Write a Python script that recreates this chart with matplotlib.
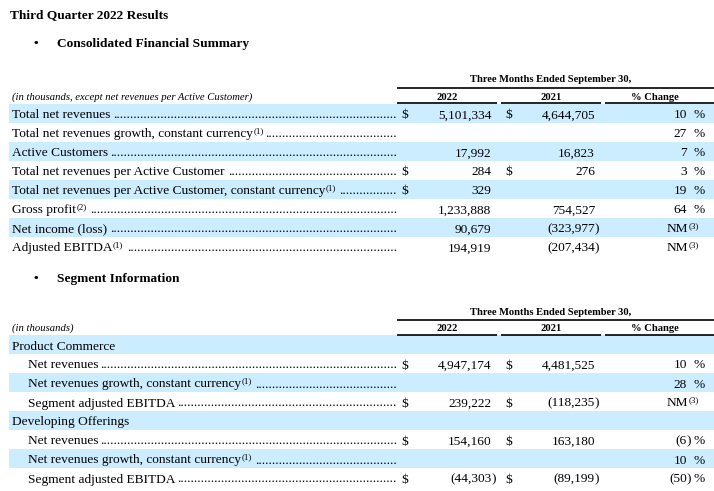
import matplotlib
matplotlib.use("Agg")
import matplotlib.pyplot as plt

# ---- data ----
summary_labels = [
    "Total net revenues",
    "Total net revenues growth, constant currency",
    "Active Customers",
    "Total net revenues per Active Customer",
    "Total net revenues per Active Customer, constant currency",
    "Gross profit",
    "Net income (loss)",
    "Adjusted EBITDA",
]
summary_notes = ["", "(1)", "", "", "(1)", "(2)", "", "(1)"]
summary_2022 = ["5,101,334", "", "17,992", "284", "329", "1,233,888", "90,679", "194,919"]
summary_2021 = ["4,644,705", "", "16,823", "276", "", "754,527", "(323,977)", "(207,434)"]
summary_change = ["10", "27", "7", "3", "19", "64", "NM", "NM"]
summary_usd_2022 = [True, False, False, True, True, False, False, False]
summary_usd_2021 = [True, False, False, True, False, False, False, False]

segment_labels = [
    "Product Commerce",
    "Net revenues",
    "Net revenues growth, constant currency",
    "Segment adjusted EBITDA",
    "Developing Offerings",
    "Net revenues",
    "Net revenues growth, constant currency",
    "Segment adjusted EBITDA",
]
segment_notes = ["", "", "(1)", "", "", "", "(1)", ""]
segment_is_group = [True, False, False, False, True, False, False, False]
segment_2022 = ["", "4,947,174", "", "239,222", "", "154,160", "", "(44,303)"]
segment_2021 = ["", "4,481,525", "", "(118,235)", "", "163,180", "", "(89,199)"]
segment_change = ["", "10", "28", "NM", "", "(6)", "10", "(50)"]
segment_usd_2022 = [False, True, False, True, False, True, False, True]
segment_usd_2021 = [False, True, False, True, False, True, False, True]

col_years = ["2022", "2021"]
period_title = "Three Months Ended September 30,"

FONT = "Liberation Serif"
SHADE = "#CCECFF"
BODY = 9.6

fig = plt.figure(figsize=(7.14, 4.91), dpi=100)
ax = fig.add_axes([0, 0, 1, 1])
ax.set_xlim(0, 714)
ax.set_ylim(491, 0)
ax.axis("off")
renderer = fig.canvas.get_renderer()
inv = ax.transData.inverted()


def txt(x, y, s, size=BODY, **kw):
    kw.setdefault("va", "baseline")
    return ax.text(x, y, s, fontsize=size, family=FONT, color="black", **kw)


def right_x(t):
    bb = t.get_window_extent(renderer)
    return inv.transform((bb.x1, bb.y0))[0]


# width of one leader dot
probe = txt(0, -50, "." * 100)
dot_w = (right_x(probe) - inv.transform((probe.get_window_extent(renderer).x0, 0))[0]) / 100
probe.remove()


def label_with_leader(x, base, label, note, dots=True):
    t = txt(x, base, label)
    end = right_x(t)
    if note:
        n = txt(end + 0.5, base - 4.5, note, size=6.5)
        end = right_x(n)
    if dots:
        count = int((397 - end - 1.5) / dot_w)
        if count > 0:
            txt(397, base, "." * count, ha="right")


def number(x_digits, base, s):
    # parentheses hang to the right of the digit column
    if s.endswith(")"):
        txt(x_digits, base, s[:-1], ha="right")
        txt(x_digits, base, ")", ha="left")
    elif s:
        txt(x_digits, base, s, ha="right")


def pct(base, s):
    if not s:
        return
    if s == "NM":
        txt(688, base, "NM", ha="right")
        txt(688.5, base - 4.5, "(3)", size=6.5)
        return
    number(687, base, s)
    txt(704.5, base, "%", ha="right")


def header(top_line_y, col_line_y, head_base, years_base):
    txt(551, head_base, period_title, size=7.6, weight="bold", ha="center")
    ax.plot([397, 714], [top_line_y, top_line_y], color="black", lw=1.2, solid_capstyle="butt")
    for (x0, x1), name, cx in zip([(397, 497), (501, 601), (605, 714)],
                                  col_years + ["% Change"], [447, 551, 655]):
        txt(cx, years_base, name, size=7.6, weight="bold", ha="center")
        ax.plot([x0, x1], [col_line_y, col_line_y], color="black", lw=1.2, solid_capstyle="butt")


def table(top, pitch, labels, notes, v22, v21, chg, usd22, usd21, groups=None):
    for i, lab in enumerate(labels):
        y0 = top + i * pitch
        if i % 2 == 0:
            ax.add_patch(plt.Rectangle((9, y0), 705, pitch, color=SHADE, lw=0, zorder=0))
        base = y0 + 14.5
        is_group = groups is not None and groups[i]
        indent = 12 if (groups is None or is_group) else 28
        label_with_leader(indent, base, lab, notes[i], dots=not is_group)
        if usd22[i]:
            txt(401, base, "$")
        if usd21[i]:
            txt(505.5, base, "$")
        number(491.5, base, v22[i])
        number(595, base, v21[i])
        pct(base, chg[i])


# ---- titles ----
txt(10, 18.5, "Third Quarter 2022 Results", weight="bold")
txt(33, 47, "•", weight="bold")
txt(57, 47, "Consolidated Financial Summary", weight="bold")

header(88, 103, 82, 100)
txt(12, 100, "(in thousands, except net revenues per Active Customer)", size=7.7, style="italic")
table(103.8, 19, summary_labels, summary_notes, summary_2022, summary_2021,
      summary_change, summary_usd_2022, summary_usd_2021)

txt(33, 282, "•", weight="bold")
txt(57, 282, "Segment Information", weight="bold")

header(319.5, 335, 315, 331)
txt(12, 331, "(in thousands)", size=7.7, style="italic")
table(335, 19, segment_labels, segment_notes, segment_2022, segment_2021,
      segment_change, segment_usd_2022, segment_usd_2021, groups=segment_is_group)

fig.savefig("out.png", dpi=100, facecolor="white")
